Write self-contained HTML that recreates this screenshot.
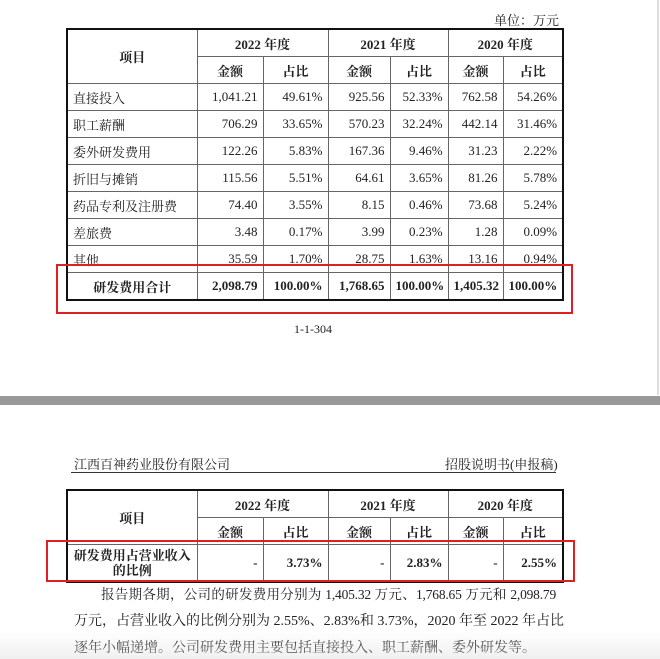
<!DOCTYPE html>
<html><head><meta charset="utf-8"><style>
body{margin:0;width:660px;height:659px;background:#fff;position:relative;overflow:hidden;font-family:"Liberation Serif","Noto Serif CJK SC",serif;color:#222}
.a{position:absolute}
table{border-collapse:collapse;position:absolute;left:66px;width:496px;table-layout:fixed;font-size:13px}
td{border:1px solid #666;height:26px;padding:0 5px;text-align:right;white-space:nowrap}
td.c{text-align:center;font-weight:bold}
td.l{text-align:left}
table{border:2px solid #111}
.b td{font-weight:bold}
.red{position:absolute;border:2px solid #e02020}
.ln{position:absolute;font-size:14px;white-space:nowrap;text-align:justify;text-align-last:justify;height:20px;line-height:20px}
</style></head><body>
<div class="a" style="top:0;width:2px;height:395px;background:#ddd;left:657px"></div>
<div class="a" style="left:494px;top:10px;font-size:13px">单位：万元</div>
<table style="top:28px">
<colgroup><col style="width:130px"><col style="width:66px"><col style="width:65px"><col style="width:62px"><col style="width:58px"><col style="width:55px"><col style="width:60px"></colgroup>
<tr><td class="c" rowspan="2">项目</td><td class="c" colspan="2">2022 年度</td><td class="c" colspan="2">2021 年度</td><td class="c" colspan="2">2020 年度</td></tr>
<tr><td class="c">金额</td><td class="c">占比</td><td class="c">金额</td><td class="c">占比</td><td class="c">金额</td><td class="c">占比</td></tr>
<tr><td class="l">直接投入</td><td>1,041.21</td><td>49.61%</td><td>925.56</td><td>52.33%</td><td>762.58</td><td>54.26%</td></tr>
<tr><td class="l">职工薪酬</td><td>706.29</td><td>33.65%</td><td>570.23</td><td>32.24%</td><td>442.14</td><td>31.46%</td></tr>
<tr><td class="l">委外研发费用</td><td>122.26</td><td>5.83%</td><td>167.36</td><td>9.46%</td><td>31.23</td><td>2.22%</td></tr>
<tr><td class="l">折旧与摊销</td><td>115.56</td><td>5.51%</td><td>64.61</td><td>3.65%</td><td>81.26</td><td>5.78%</td></tr>
<tr><td class="l">药品专利及注册费</td><td>74.40</td><td>3.55%</td><td>8.15</td><td>0.46%</td><td>73.68</td><td>5.24%</td></tr>
<tr><td class="l">差旅费</td><td>3.48</td><td>0.17%</td><td>3.99</td><td>0.23%</td><td>1.28</td><td>0.09%</td></tr>
<tr><td class="l">其他</td><td>35.59</td><td>1.70%</td><td>28.75</td><td>1.63%</td><td>13.16</td><td>0.94%</td></tr>
<tr class="b"><td class="c">研发费用合计</td><td>2,098.79</td><td>100.00%</td><td>1,768.65</td><td>100.00%</td><td>1,405.32</td><td>100.00%</td></tr>
</table>
<div class="red" style="left:56px;top:264px;width:513px;height:46px"></div>
<div class="a" style="left:294px;top:322px;font-size:12px">1-1-304</div>
<div class="a" style="left:0;top:396px;width:660px;height:9px;background:#999"></div>
<div class="a" style="left:74px;top:454px;font-size:13px">江西百神药业股份有限公司</div>
<div class="a" style="left:445px;top:454px;font-size:13px">招股说明书(申报稿)</div>
<div class="a" style="left:71px;top:472px;width:485px;height:1px;background:#333"></div>
<table style="top:489px">
<colgroup><col style="width:130px"><col style="width:66px"><col style="width:65px"><col style="width:62px"><col style="width:58px"><col style="width:55px"><col style="width:60px"></colgroup>
<tr><td class="c" rowspan="2">项目</td><td class="c" colspan="2">2022 年度</td><td class="c" colspan="2">2021 年度</td><td class="c" colspan="2">2020 年度</td></tr>
<tr><td class="c" style="height:20px">金额</td><td class="c">占比</td><td class="c">金额</td><td class="c">占比</td><td class="c">金额</td><td class="c">占比</td></tr>
<tr class="b"><td class="c" style="height:36px;line-height:15px">研发费用占营业收入<br>的比例</td><td>-</td><td>3.73%</td><td>-</td><td>2.83%</td><td>-</td><td>2.55%</td></tr>
</table>
<div class="red" style="left:46px;top:540px;width:525px;height:38px"></div>
<div class="ln" style="left:101px;top:585px;width:455px;font-size:13.5px;letter-spacing:-0.2px">报告期各期，公司的研发费用分别为 1,405.32 万元、1,768.65 万元和 2,098.79</div>
<div class="ln" style="left:74px;top:612px;width:482px">万元，占营业收入的比例分别为 2.55%、2.83%和 3.73%，2020 年至 2022 年占比</div>
<div class="ln" style="left:74px;top:639px;width:440px">逐年小幅递增。公司研发费用主要包括直接投入、职工薪酬、委外研发等。</div>
<div class="a" style="left:0;top:630px;width:660px;height:29px;background:linear-gradient(rgba(235,235,235,0),rgba(225,225,225,.5))"></div>
</body></html>
